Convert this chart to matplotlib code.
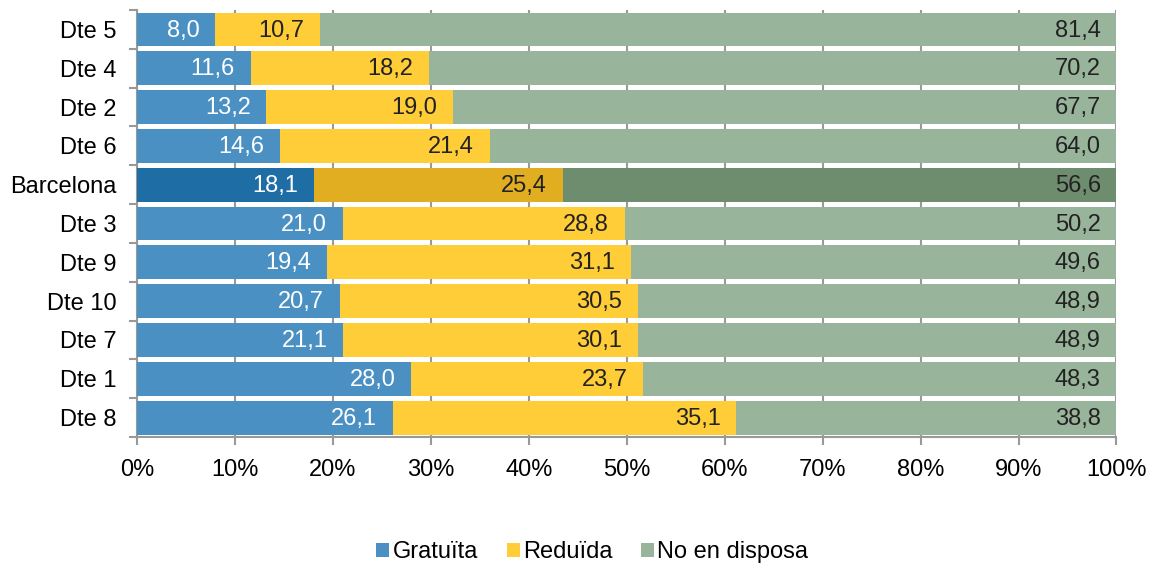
import matplotlib.pyplot as plt
import numpy as np

plt.rcParams['font.family'] = ['Liberation Sans', 'DejaVu Sans']

districts = ["Dte 5", "Dte 4", "Dte 2", "Dte 6", "Barcelona", "Dte 3",
             "Dte 9", "Dte 10", "Dte 7", "Dte 1", "Dte 8"]
gratuita = [8.0, 11.6, 13.2, 14.6, 18.1, 21.0, 19.4, 20.7, 21.1, 28.0, 26.1]
reduida = [10.7, 18.2, 19.0, 21.4, 25.4, 28.8, 31.1, 30.5, 30.1, 23.7, 35.1]
no_disposa = [81.4, 70.2, 67.7, 64.0, 56.6, 50.2, 49.6, 48.9, 48.9, 48.3, 38.8]
series_names = ["Gratuïta", "Reduïda", "No en disposa"]

colors = ["#4a90c3", "#fecd38", "#98b49a"]
colors_bcn = ["#1f6da5", "#e1ae22", "#6e8c6e"]
text_colors = ["white", "#222222", "#222222"]
FS = 17

fig = plt.figure(figsize=(11.53, 5.65), dpi=100)
ax = fig.add_axes([0.1188, 0.2265, 0.8495, 0.7558])

y = np.arange(len(districts))
data = [gratuita, reduida, no_disposa]
totals = np.array(gratuita) + np.array(reduida) + np.array(no_disposa)
left = np.zeros(len(districts))
for k, vals in enumerate(data):
    vals = np.array(vals)
    widths = vals / totals * 100
    cols = [colors_bcn[k] if d == "Barcelona" else colors[k] for d in districts]
    ax.barh(y, widths, left=left, height=0.87, color=cols, label=series_names[k], zorder=3)
    for i, v in enumerate(vals):
        ax.text(left[i] + widths[i] - 1.6, y[i] + 0.03, f"{v:.1f}".replace(".", ","),
                ha="right", va="center", color=text_colors[k], fontsize=FS, zorder=4)
    left += widths

ax.set_xlim(0, 100)
ax.set_ylim(len(districts) - 0.5, -0.5)
ax.set_xticks(np.arange(0, 101, 10))
ax.set_xticklabels([f"{t}%" for t in range(0, 101, 10)], fontsize=FS)
ax.set_yticks(y)
ax.set_yticklabels(districts, fontsize=FS)
ax.set_yticks(np.arange(-0.5, len(districts), 1), minor=True)
ax.tick_params(axis="y", which="major", length=0, pad=15)
ax.tick_params(axis="y", which="minor", length=6, color="#999999", width=1.5)
ax.tick_params(axis="x", length=6, color="#999999", width=1.5, pad=10)
ax.grid(axis="x", color="#999999", linewidth=1.5, zorder=0)
ax.set_axisbelow(True)

for s in ["top", "right"]:
    ax.spines[s].set_visible(False)
for s in ["left", "bottom"]:
    ax.spines[s].set_color("#999999")
    ax.spines[s].set_linewidth(1.5)

ax.legend(loc="center", bbox_to_anchor=(0.465, -0.27), ncol=3, frameon=False,
          fontsize=FS, handlelength=0.55, handleheight=0.55, handletextpad=0.15,
          columnspacing=1.2)

fig.savefig("out.png", dpi=100)
